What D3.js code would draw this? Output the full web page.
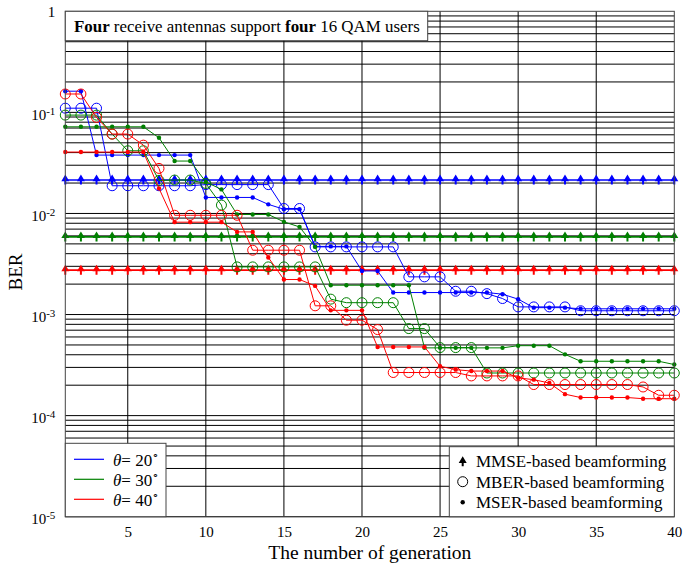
<!DOCTYPE html>
<html>
<head>
<meta charset="utf-8">
<script src="https://cdn.jsdelivr.net/npm/d3@7"></script>
<style>
  body { margin: 0; background: #fff; }
  text { font-family: "Liberation Serif", "Times New Roman", serif; }
</style>
</head>
<body>
<div id="chart"></div>
<script>
// data
var generations = d3.range(1, 41);
var thetaLabels = ["20", "30", "40"];
var thetaColors = ["#0000ff", "#008000", "#ff0000"];
var yTickValues = [1, 1e-1, 1e-2, 1e-3, 1e-4, 1e-5];
var xTickValues = [5, 10, 15, 20, 25, 30, 35, 40];

// MMSE: flat lines
var mmse = [0.0214, 0.00586, 0.00275];

// MBER (open circles)
var mberBlue = [0.110, 0.110, 0.110, 0.0188, 0.0188, 0.0188, 0.0188, 0.0188, 0.0188, 0.0193,
  0.0193, 0.0193, 0.0193, 0.0193, 0.0112, 0.0112, 0.00467, 0.00467, 0.00467, 0.00467,
  0.00467, 0.00467, 0.00236, 0.00236, 0.00236, 0.0017, 0.0017, 0.00161, 0.00144, 0.00119,
  0.00119, 0.00119, 0.00119, 0.00109, 0.00109, 0.00109, 0.00109, 0.00109, 0.00109, 0.00109];
var mberGreen = [0.094, 0.094, 0.094, 0.061, 0.0417, 0.0417, 0.0212, 0.0214, 0.0214, 0.0198,
  0.0121, 0.00296, 0.00296, 0.00296, 0.00296, 0.00296, 0.00296, 0.00142, 0.00131, 0.00131,
  0.00131, 0.00131, 0.000726, 0.000726, 0.000471, 0.000471, 0.000471, 0.000264, 0.000264, 0.000264,
  0.000264, 0.000264, 0.000264, 0.000264, 0.000264, 0.000264, 0.000264, 0.000264, 0.000264, 0.000264];
var mberRed = [0.152, 0.152, 0.0892, 0.061, 0.061, 0.0474, 0.0279, 0.0096, 0.0096, 0.0096,
  0.0096, 0.0096, 0.00433, 0.00433, 0.00433, 0.00433, 0.00122, 0.00122, 0.000879, 0.000879,
  0.00071, 0.000267, 0.000267, 0.000267, 0.000267, 0.000267, 0.000247, 0.000247, 0.000247, 0.000247,
  0.000203, 0.000203, 0.000203, 0.000203, 0.000203, 0.000203, 0.000203, 0.000192, 0.000159, 0.000159];

// MSER (small dots)
var mserBlue = [0.162, 0.162, 0.0378, 0.0378, 0.0378, 0.0378, 0.0378, 0.0378, 0.0378, 0.0144,
  0.0144, 0.0144, 0.0144, 0.0123, 0.0110, 0.0110, 0.00472, 0.00472, 0.00472, 0.0027,
  0.0027, 0.00165, 0.00165, 0.00165, 0.00165, 0.00165, 0.00165, 0.00165, 0.00159, 0.00142,
  0.00117, 0.00117, 0.00117, 0.00114, 0.00114, 0.00114, 0.00114, 0.00114, 0.00114, 0.00114];
var mserGreen = [0.072, 0.072, 0.072, 0.072, 0.072, 0.072, 0.0561, 0.033, 0.033, 0.0205,
  0.0173, 0.00977, 0.00977, 0.00977, 0.00826, 0.00736, 0.00467, 0.00195, 0.00195, 0.00195,
  0.00195, 0.00195, 0.00195, 0.000468, 0.000468, 0.000468, 0.000468, 0.000468, 0.000468, 0.000492,
  0.000492, 0.000492, 0.000404, 0.000345, 0.000345, 0.000345, 0.000345, 0.000345, 0.000345, 0.00032];
var mserRed = [0.0405, 0.0405, 0.0405, 0.0405, 0.0405, 0.0405, 0.0177, 0.0082, 0.0082, 0.0082,
  0.0082, 0.00657, 0.00657, 0.00367, 0.00222, 0.00222, 0.00192, 0.0011, 0.0011, 0.0011,
  0.000478, 0.000478, 0.000478, 0.000478, 0.000308, 0.000285, 0.000276, 0.000276, 0.000276, 0.000236,
  0.000227, 0.00021, 0.000163, 0.000151, 0.000151, 0.000151, 0.000151, 0.000147, 0.000147, 0.000147];

var mberSeries = [mberBlue, mberGreen, mberRed];
var mserSeries = [mserBlue, mserGreen, mserRed];

// chart size
var svgWidth = 683;
var svgHeight = 565;
var margin = { top: 11.3, right: 8.7, bottom: 48.3, left: 65.3 };
var chartWidth = svgWidth - margin.left - margin.right;
var chartHeight = svgHeight - margin.top - margin.bottom;

var svg = d3.select("#chart")
  .append("svg")
  .attr("width", svgWidth)
  .attr("height", svgHeight);

var chartGroup = svg.append("g")
  .attr("transform", `translate(${margin.left}, ${margin.top})`);

var xScale = d3.scaleLinear().domain([1, 40]).range([0, chartWidth]);
var yScale = d3.scaleLog().domain([1e-5, 1]).range([chartHeight, 0]);

// grid: every k*10^n horizontally, every 5 generations vertically
var minorValues = [];
for (var n = -5; n < 0; n++) {
  for (var k = 1; k < 10; k++) minorValues.push(k * Math.pow(10, n));
}
chartGroup.append("g")
  .selectAll("line")
  .data(minorValues)
  .enter()
  .append("line")
  .attr("x1", 0)
  .attr("x2", chartWidth)
  .attr("y1", d => yScale(d))
  .attr("y2", d => yScale(d))
  .attr("stroke", "#000")
  .attr("stroke-width", 1);

chartGroup.append("g")
  .selectAll("line")
  .data(xTickValues.slice(0, -1))
  .enter()
  .append("line")
  .attr("x1", d => xScale(d))
  .attr("x2", d => xScale(d))
  .attr("y1", 0)
  .attr("y2", chartHeight)
  .attr("stroke", "#000")
  .attr("stroke-width", 1);

// spade-like marker for MMSE
var spade = "M0,-5.5L4,1.2L-4,1.2Z M-1,1.2h2v3.3h-2Z";

var line = d3.line()
  .x((d, i) => xScale(generations[i]))
  .y(d => yScale(d));

thetaColors.forEach(function(color, t) {
  // MMSE flat line
  var flat = generations.map(() => mmse[t]);
  chartGroup.append("path")
    .attr("d", line(flat))
    .attr("fill", "none")
    .attr("stroke", color)
    .attr("stroke-width", 1.6);
  chartGroup.append("g")
    .selectAll("path")
    .data(flat)
    .enter()
    .append("path")
    .attr("d", spade)
    .attr("transform", (d, i) => `translate(${xScale(generations[i])}, ${yScale(d)})`)
    .attr("fill", color);
});

thetaColors.forEach(function(color, t) {
  // MBER
  chartGroup.append("path")
    .attr("d", line(mberSeries[t]))
    .attr("fill", "none")
    .attr("stroke", color)
    .attr("stroke-width", 1);
  chartGroup.append("g")
    .selectAll("circle")
    .data(mberSeries[t])
    .enter()
    .append("circle")
    .attr("cx", (d, i) => xScale(generations[i]))
    .attr("cy", d => yScale(d))
    .attr("r", 5)
    .attr("fill", "none")
    .attr("stroke", color)
    .attr("stroke-width", 1);

  // MSER
  chartGroup.append("path")
    .attr("d", line(mserSeries[t]))
    .attr("fill", "none")
    .attr("stroke", color)
    .attr("stroke-width", 1);
  chartGroup.append("g")
    .selectAll("circle")
    .data(mserSeries[t])
    .enter()
    .append("circle")
    .attr("cx", (d, i) => xScale(generations[i]))
    .attr("cy", d => yScale(d))
    .attr("r", 2.2)
    .attr("fill", color);
});

// border
chartGroup.append("rect")
  .attr("width", chartWidth)
  .attr("height", chartHeight)
  .attr("fill", "none")
  .attr("stroke", "#444")
  .attr("stroke-width", 1);

// axes
var leftAxis = d3.axisLeft(yScale).tickValues(yTickValues).tickSize(0).tickPadding(10);
var bottomAxis = d3.axisBottom(xScale).tickValues(xTickValues).tickSize(0).tickPadding(10);

var yAxisG = chartGroup.append("g").call(leftAxis);
yAxisG.select(".domain").remove();
yAxisG.selectAll(".tick text")
  .style("font-size", "15px")
  .style("font-family", "Liberation Serif, serif")
  .attr("fill", "#000")
  .each(function(d) {
    var el = d3.select(this).text("");
    if (d === 1) {
      el.attr("dy", "0.33em").text("1");
    } else {
      el.attr("dy", "0.45em");
      el.append("tspan").text("10");
      el.append("tspan")
        .attr("dy", "-5")
        .style("font-size", "11px")
        .text("-" + Math.round(-Math.log10(d)));
    }
  });

var xAxisG = chartGroup.append("g")
  .attr("transform", `translate(0, ${chartHeight})`)
  .call(bottomAxis);
xAxisG.select(".domain").remove();
xAxisG.selectAll(".tick text")
  .style("font-size", "15px")
  .style("font-family", "Liberation Serif, serif")
  .attr("fill", "#000");

// axis titles
chartGroup.append("text")
  .attr("transform", `translate(${chartWidth / 2}, ${chartHeight + 42})`)
  .attr("text-anchor", "middle")
  .style("font-size", "19.5px")
  .text("The number of generation");

chartGroup.append("text")
  .attr("transform", `translate(${-margin.left + 22}, ${chartHeight / 2 + 8}) rotate(-90)`)
  .attr("text-anchor", "middle")
  .style("font-size", "19px")
  .text("BER");

// title box
var titleG = chartGroup.append("g");
titleG.append("rect")
  .attr("x", 0).attr("y", 0)
  .attr("width", 362.4).attr("height", 29.4)
  .attr("fill", "#fff")
  .attr("stroke", "#444");
var titleText = titleG.append("text")
  .attr("x", 8.7).attr("y", 21)
  .style("font-size", "16.9px");
titleText.append("tspan").attr("font-weight", "bold").text("Four");
titleText.append("tspan").text(" receive antennas support ");
titleText.append("tspan").attr("font-weight", "bold").text("four");
titleText.append("tspan").text(" 16 QAM users");

// legend: theta colours
var leg1 = chartGroup.append("g").attr("transform", `translate(0, ${chartHeight - 73.4})`);
leg1.append("rect")
  .attr("width", 100.7).attr("height", 73.4)
  .attr("fill", "#fff").attr("stroke", "#444");
thetaLabels.forEach(function(lbl, i) {
  var yy = 16 + i * 20;
  leg1.append("line")
    .attr("x1", 8.7).attr("x2", 38.7)
    .attr("y1", yy).attr("y2", yy)
    .attr("stroke", thetaColors[i]).attr("stroke-width", 1.2);
  var tx = leg1.append("text")
    .attr("x", 47.7).attr("y", yy + 6.5)
    .style("font-size", "17px");
  tx.append("tspan").style("font-style", "italic").text("θ");
  tx.append("tspan").text("= " + lbl);
  tx.append("tspan").attr("dy", "-7").style("font-size", "11px").text("∘");
});

// legend: methods
var leg2 = chartGroup.append("g").attr("transform", `translate(384, ${chartHeight - 70})`);
leg2.append("rect")
  .attr("width", 225).attr("height", 70)
  .attr("fill", "#fff").attr("stroke", "#444");
var methodNames = ["MMSE-based beamforming", "MBER-based beamforming", "MSER-based beamforming"];
methodNames.forEach(function(name, i) {
  var yy = 14.5 + i * 20.5;
  if (i === 0) {
    leg2.append("path").attr("d", spade).attr("transform", `translate(13.4, ${yy + 0.5})`).attr("fill", "#000");
  } else if (i === 1) {
    leg2.append("circle").attr("cx", 13.4).attr("cy", yy).attr("r", 5).attr("fill", "none").attr("stroke", "#000");
  } else {
    leg2.append("circle").attr("cx", 13.4).attr("cy", yy).attr("r", 2.2).attr("fill", "#000");
  }
  leg2.append("text")
    .attr("x", 26.7).attr("y", yy + 6)
    .style("font-size", "17px")
    .text(name);
});
</script>
</body>
</html>
